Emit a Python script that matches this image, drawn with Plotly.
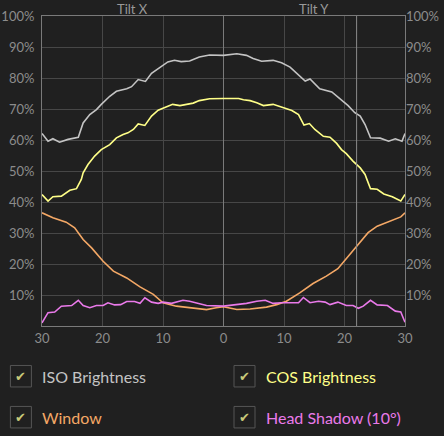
import plotly.graph_objects as go

# Tilt X is drawn on the left half (30 -> 0), Tilt Y on the right half (0 -> 30).
# Left half uses negative x so one axis can hold both.

iso_x = [-30, -29, -28.2, -27.1, -25.7, -24, -23.2, -22.1, -21, -20.2, -18.8, -17.7, -16, -15.2,
         -14.1, -12.9, -11.9, -10.8, -9.2, -8.1, -7, -5.6, -4, -2.3, -1.2, 0,
         2.2, 3.8, 4.9, 6.3, 8.2, 9.6, 11, 12.4, 13.5, 14.3, 15.9, 17.9, 19.2, 20.6, 21.7,
         22.6, 23.4, 24.3, 25.9, 27.3, 28.4, 29.5, 30]
iso_y = [62.1, 59.6, 60.4, 59.3, 60.2, 60.9, 65.5, 68.2, 69.8, 71.5, 74.1, 75.7, 76.5, 77.2,
         79.5, 78.9, 81.5, 83.1, 85.2, 85.7, 85.3, 85.5, 86.8, 87.4, 87.4, 87.3,
         87.8, 87.3, 86.3, 85.4, 85.7, 84.9, 83.5, 81.1, 79.0, 79.7, 76.5, 75.5, 73.4, 71.1, 68.8,
         67.7, 65.0, 60.7, 60.6, 59.6, 60.4, 59.6, 62.1]

cos_x = [-30, -29, -28.2, -26.8, -25.4, -24.3, -23.5, -23.2, -22.4, -21.3, -20.2, -18.8, -17.7,
         -16.6, -15.8, -14.9, -14.1, -13, -11.9, -10.8, -9.4, -8.4, -7.2, -6.1, -5, -4, -2.3, 0,
         2.5, 3.3, 4.4, 5.5, 6.6, 8.2, 9.6, 11.3, 12.4, 13.3, 14.2, 15.1, 16.5, 17.6, 18.7,
         19.5, 20.3, 21.4, 22.6, 23.4, 23.7, 24.3, 25.4, 26.5, 27.9, 29.3, 30]
cos_y = [42.4, 40.3, 41.7, 41.9, 43.8, 44.3, 47.3, 49.4, 52.1, 54.8, 56.9, 58.5, 60.7,
         61.8, 62.3, 63.4, 65.2, 64.7, 67.7, 69.6, 70.7, 71.5, 71.1, 71.4, 71.9, 72.7, 73.3, 73.4,
         73.4, 73.0, 72.7, 72.0, 71.1, 71.5, 70.7, 69.5, 68.2, 64.8, 65.3, 63.4, 61.2, 60.9, 58.9,
         56.9, 55.6, 53.2, 51.0, 48.9, 47.3, 44.3, 44.1, 42.6, 41.7, 40.3, 42.4]

win_x = [-30, -28.2, -26, -24.6, -23.2, -21.8, -19.9, -18.2, -16, -13.8, -11.6, -10, -7.8, -5,
         -2.8, -1.2, 0, 2.2, 4.4, 7.1, 8.8, 10.4, 12.6, 14.8, 17, 18.9, 20.6, 22.3, 23.9,
         25.4, 27.6, 29.3, 30]
win_y = [36.5, 34.9, 33.5, 31.7, 27.9, 25.2, 20.9, 17.7, 15.5, 12.6, 10.2, 7.5, 6.4, 5.9,
         5.3, 5.9, 6.2, 5.3, 5.5, 6.1, 6.9, 8.0, 10.7, 13.7, 16.1, 18.5, 22.5, 26.3, 30.1,
         32.2, 33.8, 35.2, 36.5]

shadow_x = [-30, -29, -27.9, -26.8, -25.1, -24, -23.2, -22.1, -21, -19.9, -19.1, -18, -17, -16,
            -14.7, -13.8, -13, -11.9, -10.8, -10, -8.6, -6.7, -5.6, -4.4, -2.8, 0,
            2.2, 3.8, 5.5, 6.9, 8.2, 9.6, 11.3, 12.4, 13.2, 14.3, 15.7, 16.8, 17.6, 18.9,
            20.3, 21.4, 22.3, 23.1, 24.3, 25.4, 27.1, 28.4, 29.3, 30]
shadow_y = [1.0, 4.3, 4.5, 6.4, 6.6, 8.3, 6.6, 5.9, 6.6, 6.6, 7.5, 6.8, 6.9, 7.9,
            7.9, 7.3, 9.1, 7.7, 7.3, 7.7, 7.3, 8.3, 8.0, 7.3, 6.6, 6.4,
            6.9, 7.3, 8.0, 8.3, 7.3, 7.5, 7.5, 7.5, 9.2, 7.5, 8.0, 7.7, 6.9, 7.7,
            6.6, 6.6, 5.7, 6.4, 8.3, 6.8, 6.6, 4.8, 4.5, 1.2]

series_names = ["ISO Brightness", "COS Brightness", "Window", "Head Shadow (10°)"]
series_colors = ["#c4c4c4", "#ffff88", "#f4a866", "#ea7aea"]

x_ticks = [-30, -20, -10, 0, 10, 20, 30]
x_labels = ["30", "20", "10", "0", "10", "20", "30"]
y_ticks = [10, 20, 30, 40, 50, 60, 70, 80, 90, 100]
y_labels = [f"{v}%" for v in y_ticks]
marker_x = 22

W, H = 444, 436
L, R, T, B = 42.3, 405.3, 16.3, 326.5


def px(x):
    return (x - L) / (R - L)


def py(y):
    return (B - y) / (B - T)


bg = "#202020"
font = "Lato, 'Open Sans', sans-serif"
tick_font = dict(family=font, size=13, color="#8c8c8c")

fig = go.Figure()
data = [(iso_x, iso_y), (cos_x, cos_y), (win_x, win_y), (shadow_x, shadow_y)]
for (xs, ys), name, col in zip(data, series_names, series_colors):
    fig.add_trace(go.Scatter(x=xs, y=ys, mode="lines", name=name,
                             line=dict(color=col, width=1.6), showlegend=False))

# invisible trace to drive the right-hand y axis
fig.add_trace(go.Scatter(x=[0], y=[0], yaxis="y2", mode="markers",
                         marker=dict(opacity=0), showlegend=False, hoverinfo="skip"))

fig.add_shape(type="line", x0=marker_x, x1=marker_x, y0=0, y1=100,
              line=dict(color="#8a8a8a", width=1))

# legend drawn as checkboxes
boxes = [(10.7, 366), (234.3, 366), (10.7, 407), (234.3, 407)]
for (bx, by), name, col in zip(boxes, series_names, series_colors):
    fig.add_shape(type="rect", xref="paper", yref="paper",
                  x0=px(bx), x1=px(bx + 21), y0=py(by), y1=py(by + 21.5),
                  line=dict(color="#555555", width=1), fillcolor=bg)
    fig.add_annotation(xref="paper", yref="paper", x=px(bx + 10.5), y=py(by + 11),
                       text="✔", showarrow=False, xanchor="center", yanchor="middle",
                       font=dict(family="DejaVu Sans", size=13, color="#c9c97a"))
    fig.add_annotation(xref="paper", yref="paper", x=px(bx + 30), y=py(by + 11),
                       text=name, showarrow=False, xanchor="left", yanchor="middle",
                       font=dict(family=font, size=16, color=col))

for label, xv in [("Tilt X", -15), ("Tilt Y", 15)]:
    fig.add_annotation(x=xv, y=1, xref="x", yref="paper", yanchor="bottom",
                       text=label, showarrow=False, yshift=-3,
                       font=dict(family=font, size=13, color="#999999"))

axis_common = dict(showline=True, linecolor="#7a7a7a", linewidth=1,
                   gridcolor="#474747", gridwidth=1, ticks="", automargin=False,
                   tickfont=tick_font)

fig.update_layout(
    width=W, height=H,
    margin=dict(l=L, r=W - R, t=T, b=H - B, autoexpand=False),
    paper_bgcolor=bg, plot_bgcolor=bg,
    showlegend=False,
    xaxis=dict(range=[-30, 30], tickvals=x_ticks, ticktext=x_labels, mirror=True,
               zeroline=True, zerolinecolor="#7a7a7a", zerolinewidth=1,
               fixedrange=True, **axis_common),
    yaxis=dict(range=[0, 100], tickvals=y_ticks, ticktext=y_labels, mirror=True,
               zeroline=False, fixedrange=True, ticklabelstandoff=4, **axis_common),
    yaxis2=dict(range=[0, 100], tickvals=y_ticks, ticktext=y_labels, overlaying="y",
                side="right", showgrid=False, zeroline=False, showline=False,
                ticks="", automargin=False, tickfont=tick_font, fixedrange=True),
)

# page body has a default margin; drop it so the chart fills the window
fig.write_html("out.html", config={"displayModeBar": False},
               post_script="document.body.style.margin='0';"
                           "document.body.style.background='#202020';")
